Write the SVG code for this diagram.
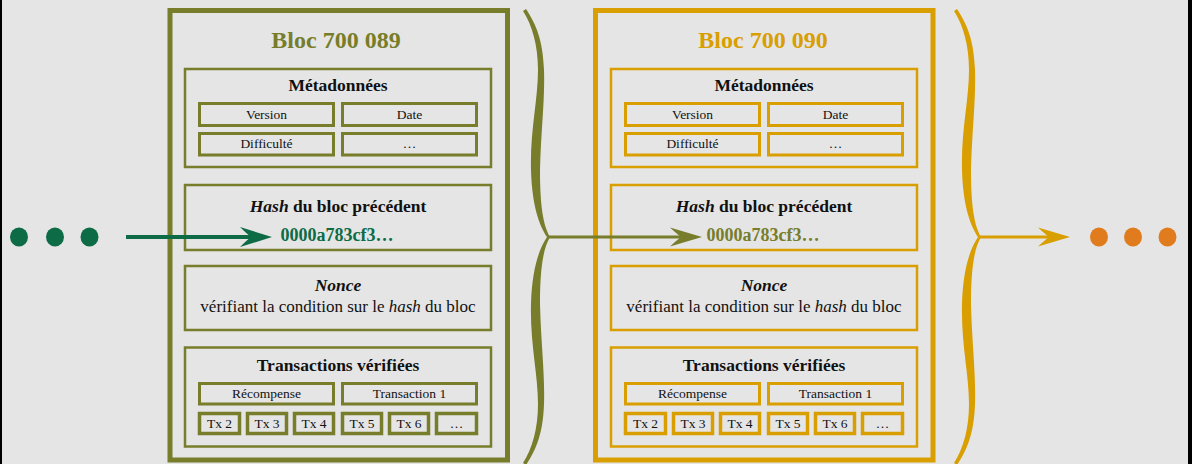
<svg xmlns="http://www.w3.org/2000/svg" width="1192" height="464" viewBox="0 0 1192 464">
<style>
text{font-family:"Liberation Serif","Times New Roman",serif;fill:#111;stroke:none;text-anchor:middle}
.title{font-size:24px;font-weight:bold}
.head{font-size:17.5px;font-weight:bold}
.body{font-size:17px}
.small{font-size:13.5px}
.hv{font-size:18px;font-weight:bold}
.outer{fill:none;stroke-width:5}
.box{fill:none;stroke-width:2.5}
.sub{fill:none;stroke-width:3}
.tx{fill:none;stroke-width:3.5}
.olive{stroke:#777d2a}
.olive .title{fill:#777d2a}
.orange{stroke:#d99e00}
.orange .title{fill:#d99e00}
</style>
<defs>
<g id="blockbody">
  <rect class="box" x="185" y="69" width="306" height="98"/>
  <text class="head" x="338" y="91">Métadonnées</text>
  <rect class="sub" x="199.5" y="103.5" width="134" height="22"/>
  <text class="small" x="266.5" y="119">Version</text>
  <rect class="sub" x="342.5" y="103.5" width="134" height="22"/>
  <text class="small" x="409.5" y="119">Date</text>
  <rect class="sub" x="199.5" y="133.5" width="134" height="21.5"/>
  <text class="small" x="266.5" y="148">Difficulté</text>
  <rect class="sub" x="342.5" y="133.5" width="134" height="21.5"/>
  <text class="small" x="409.5" y="148">…</text>
  <rect class="box" x="185" y="185" width="306" height="65"/>
  <text class="head" x="338" y="212"><tspan font-style="italic">Hash</tspan> du bloc précédent</text>
  <rect class="box" x="185" y="266" width="306" height="64"/>
  <text class="head" x="338" y="291" font-style="italic">Nonce</text>
  <text class="body" x="338" y="312">vérifiant la condition sur le <tspan font-style="italic">hash</tspan> du bloc</text>
  <rect class="box" x="185" y="347.5" width="306" height="99"/>
  <text class="head" x="338" y="371">Transactions vérifiées</text>
  <rect class="sub" x="199.5" y="383.5" width="134" height="20.5"/>
  <text class="small" x="266.5" y="398">Récompense</text>
  <rect class="sub" x="342.5" y="383.5" width="134" height="20.5"/>
  <text class="small" x="409.5" y="398">Transaction 1</text>
  <rect class="tx" x="199.5" y="413.5" width="40" height="20"/>
  <text class="small" x="219.5" y="428">Tx 2</text>
  <rect class="tx" x="247.5" y="413.5" width="39" height="20"/>
  <text class="small" x="267" y="428">Tx 3</text>
  <rect class="tx" x="294.5" y="413.5" width="39" height="20"/>
  <text class="small" x="314" y="428">Tx 4</text>
  <rect class="tx" x="342.5" y="413.5" width="39" height="20"/>
  <text class="small" x="362" y="428">Tx 5</text>
  <rect class="tx" x="389.5" y="413.5" width="39" height="20"/>
  <text class="small" x="409" y="428">Tx 6</text>
  <rect class="tx" x="436.5" y="413.5" width="40" height="20"/>
  <text class="small" x="456.5" y="428">…</text>
</g>
<path id="brace" d="M526,9 C536,24 543,40 544,70 C545,100 541,130 540,170 C540,205 543,225 550,237 C543,249 540,269 540,304 C541,344 545,374 544,404 C543,434 536,450 526,465 L523,463 C532,449 538,429 538,404 C538,374 530,344 531,304 C532,269 539,249 547,237 C539,225 532,205 531,170 C530,130 538,100 538,70 C538,45 532,25 523,11 Z"/>
</defs>
<rect x="0" y="0" width="1192" height="464" fill="#e5e5e5"/>
<rect x="0" y="0" width="2" height="464" fill="#000"/>
<rect x="1188" y="0" width="4" height="464" fill="#000"/>

<g id="dots-left" fill="#0d6b46">
  <ellipse cx="19" cy="237" rx="9" ry="9.5"/>
  <ellipse cx="55" cy="237" rx="9" ry="9.5"/>
  <ellipse cx="89.5" cy="237" rx="9" ry="9.5"/>
</g>

<g id="block-700089" class="olive">
  <rect class="outer" x="170" y="10.5" width="337.5" height="449.5"/>
  <text class="title" x="336" y="48">Bloc 700 089</text>
  <use href="#blockbody"/>
  <text class="hv" x="337" y="241" style="fill:#0d6b46">0000a783cf3…</text>
  <use href="#brace" fill="#777d2a" stroke="none"/>
</g>

<g id="block-700090" class="orange">
  <rect class="outer" x="595.5" y="10.5" width="337.5" height="449.5"/>
  <text class="title" x="763" y="48">Bloc 700 090</text>
  <g transform="translate(426,0)"><use href="#blockbody"/></g>
  <text class="hv" x="763" y="241" style="fill:#777d2a">0000a783cf3…</text>
  <g transform="translate(431,0)"><use href="#brace" fill="#d99e00" stroke="none"/></g>
</g>

<g id="dots-right" fill="#e07c1e">
  <ellipse cx="1099" cy="237" rx="9" ry="9.5"/>
  <ellipse cx="1133" cy="237" rx="9" ry="9.5"/>
  <ellipse cx="1167.5" cy="237" rx="9" ry="9.5"/>
</g>

<g id="connectors">
  <line x1="126" y1="237" x2="258" y2="237" stroke="#0d6b46" stroke-width="4"/>
  <path d="M272,237 L240,227 Q247,234 251,237 Q247,240 240,247 Z" fill="#0d6b46"/>
  <line x1="548" y1="237" x2="690" y2="237" stroke="#777d2a" stroke-width="3"/>
  <path d="M702,237 L670,227.5 Q677,234 681,237 Q677,240 670,246.5 Z" fill="#777d2a"/>
  <line x1="979" y1="237" x2="1058" y2="237" stroke="#d99e00" stroke-width="3"/>
  <path d="M1070,237 L1038,227.5 Q1045,234 1049,237 Q1045,240 1038,246.5 Z" fill="#d99e00"/>
</g>
</svg>
